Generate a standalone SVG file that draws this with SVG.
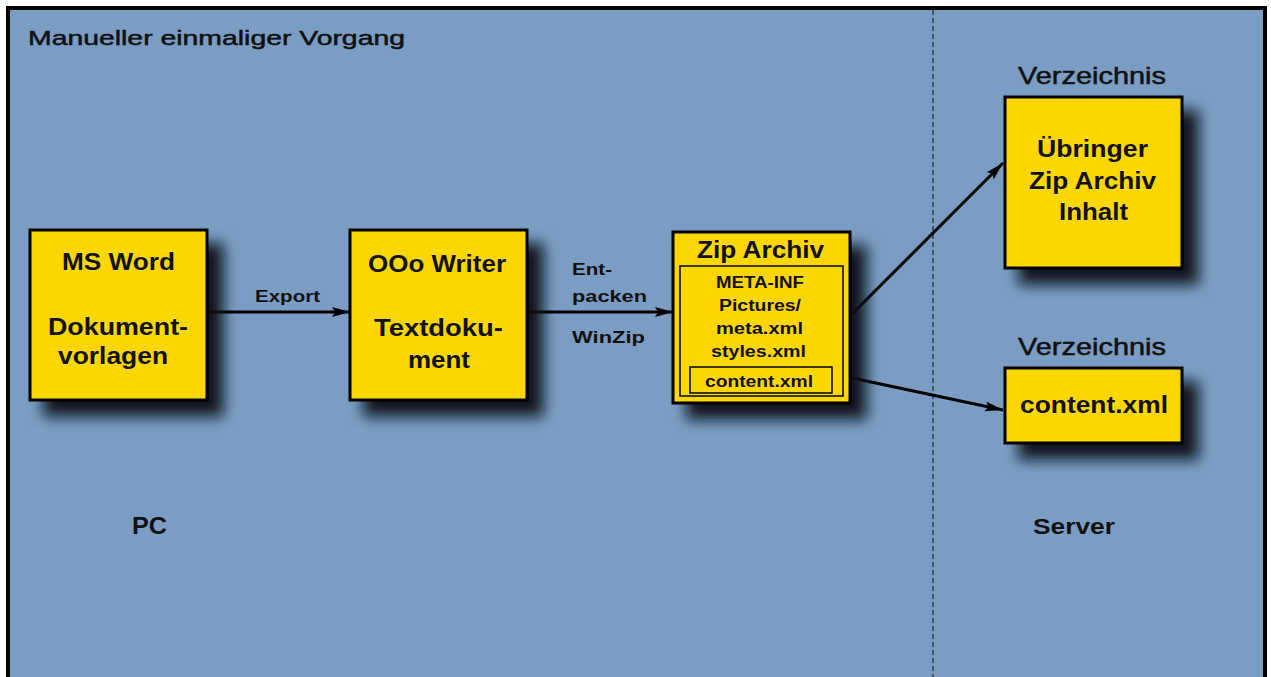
<svg xmlns="http://www.w3.org/2000/svg" width="1271" height="677" viewBox="0 0 1271 677">
<defs>
<filter id="sh" x="-20%" y="-20%" width="160%" height="160%">
<feGaussianBlur in="SourceAlpha" stdDeviation="7"/>
<feOffset dx="15" dy="15" result="b"/>
<feFlood flood-color="#0b0f16" flood-opacity="0.95"/>
<feComposite in2="b" operator="in"/>
<feMerge><feMergeNode/><feMergeNode in="SourceGraphic"/></feMerge>
</filter>
<marker id="ah" markerWidth="20" markerHeight="12" refX="18" refY="6" orient="auto" markerUnits="userSpaceOnUse">
<path d="M0,1 L18,6 L0,11 L3,6 Z" fill="#000"/>
</marker>
</defs>
<style>
.box{fill:#ffd700;stroke:#000;stroke-width:3}
.inner{fill:none;stroke:#000;stroke-width:1.5}
.t{font-family:"Liberation Sans",Arial,sans-serif;fill:#111}
.reg{stroke:#111;stroke-width:0.5}
.b{font-weight:bold}
.big{font-size:24px}
.sm{font-size:16px}
.lbl{font-size:17px}
.c{stroke:#000;stroke-width:3;fill:none;marker-end:url(#ah)}
</style>
<rect x="0" y="0" width="1271" height="677" fill="#fff"/>
<rect x="8" y="8" width="1257" height="680" fill="#7b9dc3" stroke="#000" stroke-width="4"/>
<line x1="933" y1="10" x2="933" y2="677" stroke="#222" stroke-width="1.2" stroke-dasharray="5,3"/>
<text class="t reg" x="28" y="45" font-size="21" textLength="377" lengthAdjust="spacingAndGlyphs">Manueller einmaliger Vorgang</text>
<text class="t b big" x="132" y="534" textLength="35" lengthAdjust="spacingAndGlyphs">PC</text>
<text class="t b" font-size="22" x="1033" y="534" textLength="82" lengthAdjust="spacingAndGlyphs">Server</text>
<text class="t reg" font-size="24" x="1018" y="84" textLength="148" lengthAdjust="spacingAndGlyphs">Verzeichnis</text>
<text class="t reg" font-size="24" x="1018" y="355" textLength="148" lengthAdjust="spacingAndGlyphs">Verzeichnis</text>

<g id="connectors">
<line class="c" x1="207" y1="312" x2="350" y2="312"/>
<line class="c" x1="527" y1="312" x2="673" y2="312"/>
<line class="c" x1="852" y1="314" x2="1003" y2="163"/>
<line class="c" x1="852" y1="378" x2="1003" y2="410"/>
<text class="t b lbl" x="255" y="302" textLength="65" lengthAdjust="spacingAndGlyphs">Export</text>
<text class="t b lbl" x="572" y="275" textLength="40" lengthAdjust="spacingAndGlyphs">Ent-</text>
<text class="t b lbl" x="572" y="302" textLength="75" lengthAdjust="spacingAndGlyphs">packen</text>
<text class="t b lbl" x="572" y="343" textLength="73" lengthAdjust="spacingAndGlyphs">WinZip</text>
</g>

<g id="msword">
<rect class="box" x="30" y="230" width="177" height="170" filter="url(#sh)"/>
<text class="t b big" x="62" y="270" textLength="113" lengthAdjust="spacingAndGlyphs">MS Word</text>
<text class="t b big" x="48" y="335" textLength="140" lengthAdjust="spacingAndGlyphs">Dokument-</text>
<text class="t b big" x="58" y="364" textLength="110" lengthAdjust="spacingAndGlyphs">vorlagen</text>
</g>

<g id="ooowriter">
<rect class="box" x="350" y="230" width="177" height="170" filter="url(#sh)"/>
<text class="t b big" x="368" y="272" textLength="138" lengthAdjust="spacingAndGlyphs">OOo Writer</text>
<text class="t b big" x="374" y="336" textLength="129" lengthAdjust="spacingAndGlyphs">Textdoku-</text>
<text class="t b big" x="408" y="368" textLength="62" lengthAdjust="spacingAndGlyphs">ment</text>
</g>

<g id="ziparchiv">
<rect class="box" x="673" y="232" width="177" height="171" filter="url(#sh)"/>
<text class="t b big" x="697" y="258" textLength="127" lengthAdjust="spacingAndGlyphs">Zip Archiv</text>
<rect class="inner" x="680" y="266" width="163" height="130"/>
<text class="t b sm" x="716" y="288" textLength="88" lengthAdjust="spacingAndGlyphs">META-INF</text>
<text class="t b sm" x="719" y="311" textLength="82" lengthAdjust="spacingAndGlyphs">Pictures/</text>
<text class="t b sm" x="716" y="334" textLength="87" lengthAdjust="spacingAndGlyphs">meta.xml</text>
<text class="t b sm" x="711" y="357" textLength="95" lengthAdjust="spacingAndGlyphs">styles.xml</text>
<rect class="inner" x="690" y="367" width="142" height="26"/>
<text class="t b sm" x="705" y="387" textLength="108" lengthAdjust="spacingAndGlyphs">content.xml</text>
</g>

<g id="uebringer">
<rect class="box" x="1005" y="97" width="177" height="171" filter="url(#sh)"/>
<text class="t b big" x="1037" y="157" textLength="111" lengthAdjust="spacingAndGlyphs">Übringer</text>
<text class="t b big" x="1029" y="189" textLength="127" lengthAdjust="spacingAndGlyphs">Zip Archiv</text>
<text class="t b big" x="1059" y="220" textLength="69" lengthAdjust="spacingAndGlyphs">Inhalt</text>
</g>

<g id="contentxml">
<rect class="box" x="1005" y="368" width="177" height="75" filter="url(#sh)"/>
<text class="t b big" x="1020" y="413" textLength="148" lengthAdjust="spacingAndGlyphs">content.xml</text>
</g>
</svg>
